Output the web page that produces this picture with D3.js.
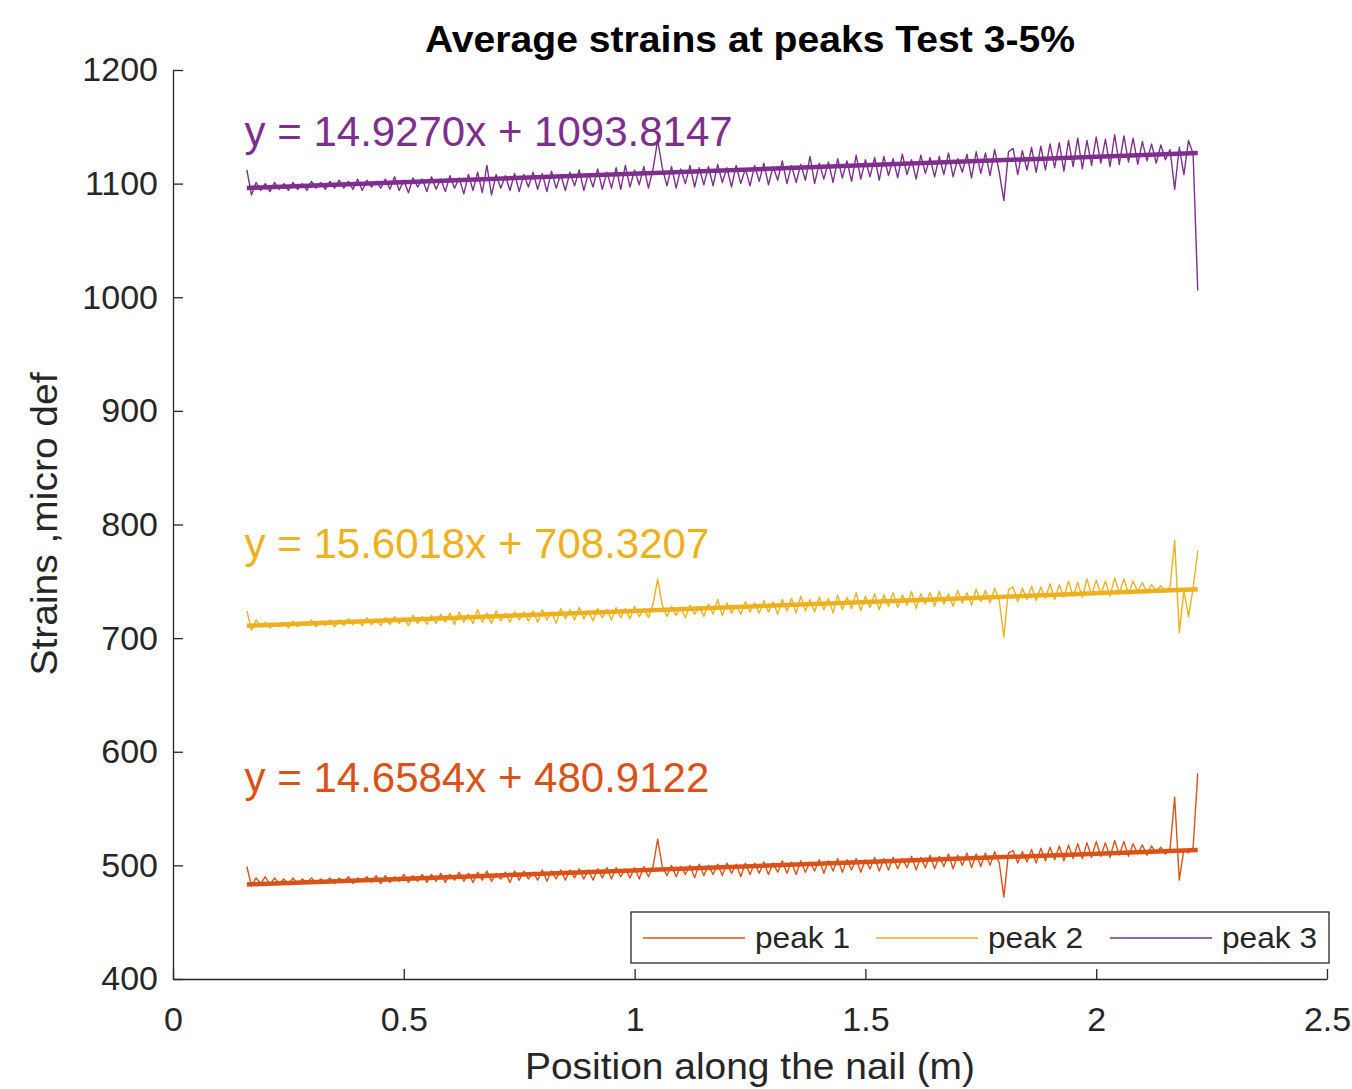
<!DOCTYPE html>
<html>
<head>
<meta charset="utf-8">
<script src="https://cdn.jsdelivr.net/npm/d3@7"></script>
<style>
  html, body { margin: 0; padding: 0; background: #fff; }
  svg { display: block; font-family: "Liberation Sans", Arial, sans-serif; }
</style>
</head>
<body>
<svg id="chart" width="1352" height="1089"></svg>
<script>
// ---------------- DATA ----------------
const chartTitle = "Average strains at peaks Test 3-5%";
const xLabel = "Position along the nail (m)";
const yLabel = "Strains ,micro def";
const xTicks = [0, 0.5, 1, 1.5, 2, 2.5];
const xTickLabels = ["0", "0.5", "1", "1.5", "2", "2.5"];
const yTicks = [400, 500, 600, 700, 800, 900, 1000, 1100, 1200];
const seriesNames = ["peak 1", "peak 2", "peak 3"];
const seriesColors = ["#D95319", "#EDB120", "#7E2F8E"];

const positions = [
  0.16,0.17,0.18,0.19,0.20,0.21,0.22,0.23,0.24,0.25,
  0.26,0.27,0.28,0.29,0.30,0.31,0.32,0.33,0.34,0.35,
  0.36,0.37,0.38,0.39,0.40,0.41,0.42,0.43,0.44,0.45,
  0.46,0.47,0.48,0.49,0.50,0.51,0.52,0.53,0.54,0.55,
  0.56,0.57,0.58,0.59,0.60,0.61,0.62,0.63,0.64,0.65,
  0.66,0.67,0.68,0.69,0.70,0.71,0.72,0.73,0.74,0.75,
  0.76,0.77,0.78,0.79,0.80,0.81,0.82,0.83,0.84,0.85,
  0.86,0.87,0.88,0.89,0.90,0.91,0.92,0.93,0.94,0.95,
  0.96,0.97,0.98,0.99,1.00,1.01,1.02,1.03,1.04,1.05,
  1.06,1.07,1.08,1.09,1.10,1.11,1.12,1.13,1.14,1.15,
  1.16,1.17,1.18,1.19,1.20,1.21,1.22,1.23,1.24,1.25,
  1.26,1.27,1.28,1.29,1.30,1.31,1.32,1.33,1.34,1.35,
  1.36,1.37,1.38,1.39,1.40,1.41,1.42,1.43,1.44,1.45,
  1.46,1.47,1.48,1.49,1.50,1.51,1.52,1.53,1.54,1.55,
  1.56,1.57,1.58,1.59,1.60,1.61,1.62,1.63,1.64,1.65,
  1.66,1.67,1.68,1.69,1.70,1.71,1.72,1.73,1.74,1.75,
  1.76,1.77,1.78,1.79,1.80,1.81,1.82,1.83,1.84,1.85,
  1.86,1.87,1.88,1.89,1.90,1.91,1.92,1.93,1.94,1.95,
  1.96,1.97,1.98,1.99,2.00,2.01,2.02,2.03,2.04,2.05,
  2.06,2.07,2.08,2.09,2.10,2.11,2.12,2.13,2.14,2.15,
  2.16,2.17,2.18,2.19,2.20,2.21,2.22
];

const peak1 = [
  499,482,489,484,490,483,489,484,488,483,
  489,484,488,485,489,484,488,485,489,484,
  489,485,490,484,489,486,490,485,491,484,
  491,485,490,486,492,485,491,486,492,485,
  492,486,493,485,492,487,494,486,493,485,
  494,487,495,486,493,488,494,485,495,487,
  495,488,494,487,496,486,495,488,496,487,
  496,489,497,488,496,487,497,489,498,488,
  498,490,497,489,498,488,499,490,499,523,
  499,491,500,490,499,492,500,489,501,491,
  500,492,501,491,502,493,501,490,502,492,
  502,493,503,492,502,494,504,493,503,492,
  504,494,503,495,505,493,504,495,506,494,
  505,496,506,494,505,497,507,495,506,496,
  507,497,506,498,508,496,507,498,509,497,
  508,499,510,497,509,500,511,498,510,499,
  511,500,512,502,472,511,513,502,512,503,
  514,502,515,504,516,505,517,504,518,506,
  519,506,520,507,521,508,520,507,522,509,
  521,508,519,510,518,509,517,511,516,510,
  515,560,487,514,511,516,581
];

const peak2 = [
  724,707,716,710,714,709,713,710,714,709,
  715,710,714,711,716,710,715,711,716,710,
  716,711,717,712,716,711,718,712,717,711,
  718,712,719,713,718,711,720,713,719,712,
  720,713,721,714,722,712,723,714,721,713,
  725,714,722,713,724,715,722,714,723,716,
  723,715,724,714,725,716,723,713,726,717,
  725,716,727,717,724,715,726,718,725,716,
  727,718,726,717,728,719,726,718,730,752,
  729,719,728,720,727,718,729,721,728,719,
  730,721,734,720,731,722,729,721,732,723,
  731,722,733,723,732,721,734,724,735,722,
  737,724,734,723,736,725,735,722,738,725,
  736,726,740,724,737,727,739,725,738,728,
  740,727,738,729,741,726,739,730,740,728,
  741,730,739,728,742,731,740,729,743,732,
  742,731,744,733,701,743,745,732,744,734,
  746,733,745,735,748,734,747,736,750,737,
  749,736,752,738,751,739,750,737,753,740,
  752,739,750,741,749,740,747,742,746,741,
  745,786,705,742,719,744,777
];

const peak3 = [
  1112,1090,1101,1094,1100,1093,1101,1095,1100,1094,
  1101,1095,1100,1094,1102,1096,1101,1095,1102,1096,
  1103,1096,1102,1095,1104,1094,1103,1097,1102,1096,
  1104,1095,1106,1094,1103,1092,1105,1097,1104,1093,
  1106,1095,1104,1093,1107,1096,1105,1091,1108,1094,
  1110,1092,1116,1090,1108,1096,1107,1094,1109,1093,
  1108,1097,1110,1095,1109,1093,1111,1096,1108,1094,
  1110,1098,1112,1094,1109,1097,1113,1095,1110,1096,
  1114,1095,1116,1097,1112,1099,1115,1096,1113,1138,
  1114,1098,1115,1096,1113,1100,1116,1097,1114,1099,
  1115,1098,1117,1101,1114,1097,1116,1100,1113,1098,
  1116,1102,1118,1099,1115,1103,1120,1100,1116,1101,
  1117,1103,1124,1100,1118,1104,1119,1101,1122,1105,
  1120,1102,1125,1104,1121,1106,1123,1103,1124,1107,
  1122,1105,1126,1108,1121,1104,1125,1109,1123,1106,
  1124,1108,1127,1106,1122,1110,1126,1105,1128,1109,
  1127,1107,1130,1110,1085,1128,1131,1108,1129,1112,
  1132,1110,1133,1112,1135,1114,1136,1111,1138,1115,
  1140,1113,1138,1116,1141,1118,1139,1115,1143,1117,
  1142,1119,1140,1117,1137,1120,1135,1118,1134,1121,
  1130,1095,1132,1108,1138,1126,1006
];

// linear fits shown in the chart
const fitSlopes = [14.6584, 15.6018, 14.9270];
const fitIntercepts = [480.9122, 708.3207, 1093.8147];
const fitLabels = ["y = 14.6584x + 480.9122", "y = 15.6018x + 708.3207", "y = 14.9270x + 1093.8147"];
const fitRange = [0.16, 2.22];
// label anchor (data coordinates)
const labelX = [0.155, 0.155, 0.155];
const labelY = [564.5, 770.5, 1133];

// ---------------- CHART ----------------
const svg = d3.select("#chart");
const textColor = "#262626";
const x = d3.scaleLinear().domain([0, 2.5]).range([173, 1327]);
const y = d3.scaleLinear().domain([400, 1200]).range([979, 70]);

const allSeries = [peak1, peak2, peak3];

// data lines
const line = d3.line().x(d => x(d[0])).y(d => y(d[1]));
allSeries.forEach((vals, i) => {
  const pts = positions.map((p, j) => [p, vals[j]]);
  svg.append("path")
    .attr("d", line(pts))
    .attr("fill", "none")
    .attr("stroke", seriesColors[i])
    .attr("stroke-width", 1.4)
    .attr("stroke-linejoin", "round");
});

// fit lines
allSeries.forEach((vals, i) => {
  const pts = fitRange.map(p => [p, fitSlopes[i] * p + fitIntercepts[i]]);
  svg.append("path")
    .attr("d", line(pts))
    .attr("fill", "none")
    .attr("stroke", seriesColors[i])
    .attr("stroke-width", 4.5)
    .attr("stroke-linecap", "butt");
});

// fit equation labels
fitLabels.forEach((t, i) => {
  svg.append("text")
    .attr("x", x(labelX[i]))
    .attr("y", y(labelY[i]))
    .attr("fill", seriesColors[i])
    .attr("font-size", 42)
    .text(t);
});

// axes
const yAxis = d3.axisLeft(y).tickValues(yTicks).tickSizeInner(-10).tickSizeOuter(0).tickPadding(15).tickFormat(d3.format("d"));
const xAxis = d3.axisBottom(x).tickValues(xTicks).tickSizeInner(-10).tickSizeOuter(0).tickPadding(28).tickFormat((d, i) => xTickLabels[i]);

const gy = svg.append("g").attr("transform", `translate(${x(0)},0)`).call(yAxis);
const gx = svg.append("g").attr("transform", `translate(0,${y(400)})`).call(xAxis);
[gx, gy].forEach(g => {
  g.select(".domain").attr("stroke", textColor).attr("stroke-width", 1.3);
  g.selectAll(".tick line").attr("stroke", textColor).attr("stroke-width", 1.3);
  g.selectAll(".tick text").attr("fill", textColor).attr("font-size", 34)
    .attr("font-family", "'Liberation Sans', Arial, sans-serif");
});

// title
svg.append("text")
  .attr("x", 750).attr("y", 52)
  .attr("text-anchor", "middle")
  .attr("font-size", 36).attr("font-weight", "bold")
  .attr("fill", "#000")
  .attr("textLength", 650).attr("lengthAdjust", "spacingAndGlyphs")
  .text(chartTitle);

// axis titles
svg.append("text")
  .attr("x", 750).attr("y", 1079)
  .attr("text-anchor", "middle")
  .attr("font-size", 36)
  .attr("fill", textColor)
  .attr("textLength", 450).attr("lengthAdjust", "spacingAndGlyphs")
  .text(xLabel);

svg.append("text")
  .attr("transform", "translate(57,524) rotate(-90)")
  .attr("text-anchor", "middle")
  .attr("font-size", 36)
  .attr("fill", textColor)
  .attr("textLength", 303).attr("lengthAdjust", "spacingAndGlyphs")
  .text(yLabel);

// legend
const legend = svg.append("g");
legend.append("rect")
  .attr("x", 631).attr("y", 912).attr("width", 698).attr("height", 51)
  .attr("fill", "#fff").attr("stroke", textColor).attr("stroke-width", 1.3);
const legendLineX = [643, 876, 1110];
seriesNames.forEach((n, i) => {
  legend.append("line")
    .attr("x1", legendLineX[i]).attr("x2", legendLineX[i] + 102)
    .attr("y1", 938).attr("y2", 938)
    .attr("stroke", seriesColors[i]).attr("stroke-width", 1.4);
  legend.append("text")
    .attr("x", legendLineX[i] + 112).attr("y", 948)
    .attr("font-size", 30)
    .attr("fill", textColor)
    .attr("textLength", 95).attr("lengthAdjust", "spacingAndGlyphs")
    .text(n);
});
</script>
</body>
</html>
